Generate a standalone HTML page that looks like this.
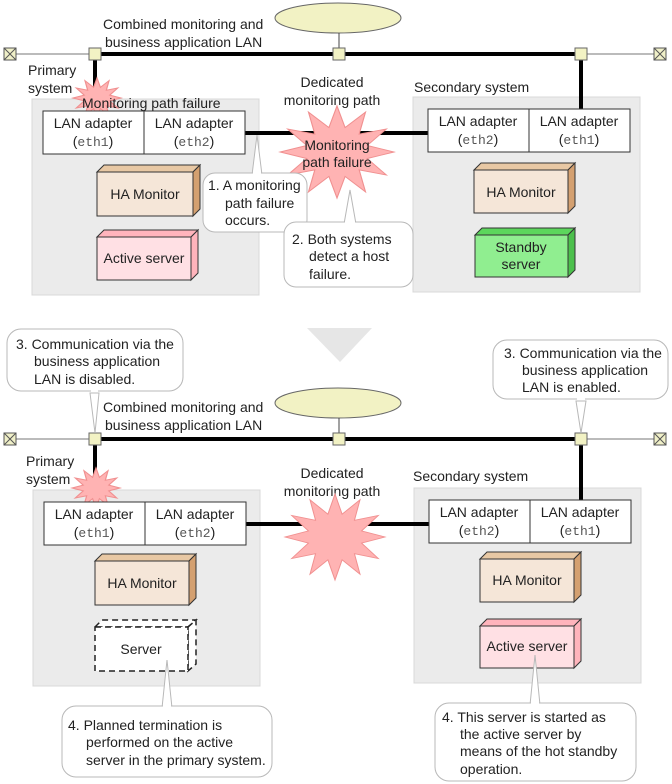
<!DOCTYPE html>
<html><head><meta charset="utf-8"><style>
html,body{margin:0;padding:0;background:#fff}
svg{display:block}
text{font-family:"Liberation Sans",sans-serif;font-size:14px;fill:#222}
.m{font-family:"Liberation Mono",monospace;fill:#555;font-size:13px}
</style></head><body>
<svg width="672" height="784" viewBox="0 0 672 784" xmlns="http://www.w3.org/2000/svg">
<defs>
<polygon id="star" points="1,0 0.531,0.142 0.866,0.5 0.389,0.389 0.5,0.866 0.142,0.531 0,1 -0.142,0.531 -0.5,0.866 -0.389,0.389 -0.866,0.5 -0.531,0.142 -1,0 -0.531,-0.142 -0.866,-0.5 -0.389,-0.389 -0.5,-0.866 -0.142,-0.531 0,-1 0.142,-0.531 0.5,-0.866 0.389,-0.389 0.866,-0.5 0.531,-0.142"/>
<g id="term"><rect x="0" y="0" width="12" height="12" fill="#f0f0c8" stroke="#555"/><path d="M0,0L12,12M12,0L0,12" stroke="#555"/></g>
<rect id="node" x="0" y="0" width="12" height="12" fill="#f2f2c4" stroke="#666"/>
</defs>

<!-- ===== TOP ===== -->
<rect x="32" y="99" width="227" height="196" fill="#ebebeb" stroke="#d8d8d8"/>
<rect x="413" y="97" width="227" height="195" fill="#ebebeb" stroke="#d8d8d8"/>

<ellipse cx="338" cy="18" rx="63" ry="15" fill="#f2f2c4" stroke="#666"/>
<line x1="339" y1="33" x2="339" y2="48" stroke="#444"/>
<line x1="16" y1="54" x2="89" y2="54" stroke="#777"/>
<line x1="587" y1="54" x2="654" y2="54" stroke="#777"/>
<line x1="101" y1="54" x2="575" y2="54" stroke="#000" stroke-width="4"/>
<line x1="95" y1="60" x2="95" y2="100" stroke="#000" stroke-width="4"/>
<line x1="581" y1="60" x2="581" y2="110" stroke="#000" stroke-width="4"/>
<use href="#term" x="4" y="48"/><use href="#term" x="654" y="48"/>
<use href="#node" x="89" y="48"/><use href="#node" x="333" y="48"/><use href="#node" x="575" y="48"/>
<text x="103" y="29">Combined monitoring and</text>
<text x="105" y="47">business application LAN</text>
<text x="28" y="75">Primary</text><text x="28" y="93">system</text>
<text x="414" y="92">Secondary system</text>
<text x="332" y="87" text-anchor="middle">Dedicated</text>
<text x="332" y="105" text-anchor="middle">monitoring path</text>

<line x1="245" y1="133" x2="428" y2="133" stroke="#000" stroke-width="4"/>
<use href="#star" transform="translate(97,98) scale(24,20)" fill="#ffb3b3" stroke="#f09090" stroke-width="0.05"/>
<use href="#star" transform="translate(337,152) scale(57,46)" fill="#ffb3b3" stroke="#f09090" stroke-width="0.02"/>
<text x="82" y="108">Monitoring path failure</text>
<text x="337" y="150" text-anchor="middle">Monitoring</text>
<text x="337" y="167" text-anchor="middle">path failure</text>

<rect x="43" y="111" width="101" height="43" fill="#fff" stroke="#333"/>
<rect x="144" y="111" width="101" height="43" fill="#fff" stroke="#333"/>
<text x="93" y="128" text-anchor="middle">LAN adapter</text><text x="93" y="146" text-anchor="middle">(<tspan class="m">eth1</tspan>)</text>
<text x="194" y="128" text-anchor="middle">LAN adapter</text><text x="194" y="146" text-anchor="middle">(<tspan class="m">eth2</tspan>)</text>
<rect x="428" y="109" width="101" height="43" fill="#fff" stroke="#333"/>
<rect x="529" y="109" width="101" height="43" fill="#fff" stroke="#333"/>
<text x="478" y="126" text-anchor="middle">LAN adapter</text><text x="478" y="144" text-anchor="middle">(<tspan class="m">eth2</tspan>)</text>
<text x="579" y="126" text-anchor="middle">LAN adapter</text><text x="579" y="144" text-anchor="middle">(<tspan class="m">eth1</tspan>)</text>

<g stroke="#333">
<polygon points="97,172 104,165 200,165 193,172" fill="#e8c8a4"/>
<polygon points="193,172 200,165 200,209 193,216" fill="#d4a070"/>
<rect x="97" y="172" width="96" height="44" fill="#f5e6d8"/>
<polygon points="97,237 104,230 198,230 191,237" fill="#ffb4bc"/>
<polygon points="191,237 198,230 198,273 191,280" fill="#ffb4bc"/>
<rect x="97" y="237" width="94" height="43" fill="#ffe0e4"/>
<polygon points="474,170 481,163 575,163 568,170" fill="#e8c8a4"/>
<polygon points="568,170 575,163 575,206 568,213" fill="#d4a070"/>
<rect x="474" y="170" width="94" height="43" fill="#f5e6d8"/>
<polygon points="475,235 482,228 575,228 568,235" fill="#5cd65c"/>
<polygon points="568,235 575,228 575,270 568,277" fill="#4cc04c"/>
<rect x="475" y="235" width="93" height="42" fill="#90ee90"/>
</g>
<text x="145" y="199" text-anchor="middle">HA Monitor</text>
<text x="144" y="263" text-anchor="middle">Active server</text>
<text x="521" y="197" text-anchor="middle">HA Monitor</text>
<text x="521" y="252" text-anchor="middle">Standby</text><text x="521" y="269" text-anchor="middle">server</text>

<g fill="#fff" stroke="#b8b8b8">
<polygon points="252,175 257,135 262,175"/>
<rect x="203" y="173" width="104" height="59" rx="12"/>
<polygon points="344,224 350,190 356,224"/>
<rect x="284" y="222" width="129" height="65" rx="12"/>
</g>
<line x1="253" y1="173" x2="261" y2="173" stroke="#fff" stroke-width="2"/>
<line x1="345" y1="222" x2="355" y2="222" stroke="#fff" stroke-width="2"/>
<text x="208" y="190">1. A monitoring</text><text x="225" y="208">path failure</text><text x="225" y="225">occurs.</text>
<text x="292" y="244">2. Both systems</text><text x="309" y="261">detect a host</text><text x="309" y="279">failure.</text>

<polygon points="307,328 372,328 340,362" fill="#e6e6e6"/>

<!-- ===== BOTTOM ===== -->
<rect x="33" y="490" width="227" height="196" fill="#ebebeb" stroke="#d8d8d8"/>
<rect x="414" y="488" width="227" height="195" fill="#ebebeb" stroke="#d8d8d8"/>

<ellipse cx="338" cy="403" rx="63" ry="15" fill="#f2f2c4" stroke="#666"/>
<line x1="339" y1="418" x2="339" y2="433" stroke="#444"/>
<line x1="16" y1="439" x2="89" y2="439" stroke="#777"/>
<line x1="587" y1="439" x2="654" y2="439" stroke="#777"/>
<line x1="101" y1="439" x2="575" y2="439" stroke="#000" stroke-width="4"/>
<line x1="95" y1="445" x2="95" y2="490" stroke="#000" stroke-width="4"/>
<line x1="581" y1="445" x2="581" y2="500" stroke="#000" stroke-width="4"/>
<use href="#term" x="4" y="433"/><use href="#term" x="654" y="433"/>
<use href="#node" x="89" y="433"/><use href="#node" x="333" y="433"/><use href="#node" x="575" y="433"/>
<text x="103" y="412">Combined monitoring and</text>
<text x="105" y="430">business application LAN</text>
<text x="26" y="466">Primary</text><text x="26" y="484">system</text>
<text x="413" y="481">Secondary system</text>
<text x="332" y="478" text-anchor="middle">Dedicated</text>
<text x="332" y="496" text-anchor="middle">monitoring path</text>

<line x1="246" y1="524" x2="429" y2="524" stroke="#000" stroke-width="4"/>
<use href="#star" transform="translate(96,488) scale(24,20)" fill="#ffb3b3" stroke="#f09090" stroke-width="0.05"/>
<use href="#star" transform="translate(335,537) scale(50,43)" fill="#ffb3b3" stroke="#f09090" stroke-width="0.02"/>

<rect x="44" y="502" width="101" height="43" fill="#fff" stroke="#333"/>
<rect x="145" y="502" width="101" height="43" fill="#fff" stroke="#333"/>
<text x="94" y="519" text-anchor="middle">LAN adapter</text><text x="94" y="537" text-anchor="middle">(<tspan class="m">eth1</tspan>)</text>
<text x="195" y="519" text-anchor="middle">LAN adapter</text><text x="195" y="537" text-anchor="middle">(<tspan class="m">eth2</tspan>)</text>
<rect x="429" y="500" width="101" height="43" fill="#fff" stroke="#333"/>
<rect x="530" y="500" width="101" height="43" fill="#fff" stroke="#333"/>
<text x="479" y="517" text-anchor="middle">LAN adapter</text><text x="479" y="535" text-anchor="middle">(<tspan class="m">eth2</tspan>)</text>
<text x="580" y="517" text-anchor="middle">LAN adapter</text><text x="580" y="535" text-anchor="middle">(<tspan class="m">eth1</tspan>)</text>

<g stroke="#333">
<polygon points="95,561 102,554 196,554 189,561" fill="#e8c8a4"/>
<polygon points="189,561 196,554 196,598 189,605" fill="#d4a070"/>
<rect x="95" y="561" width="94" height="44" fill="#f5e6d8"/>
<polygon points="480,559 487,552 581,552 574,559" fill="#e8c8a4"/>
<polygon points="574,559 581,552 581,595 574,602" fill="#d4a070"/>
<rect x="480" y="559" width="94" height="43" fill="#f5e6d8"/>
<polygon points="480,626 487,619 581,619 574,626" fill="#ffb4bc"/>
<polygon points="574,626 581,619 581,661 574,668" fill="#ffb4bc"/>
<rect x="480" y="626" width="94" height="42" fill="#ffe0e4"/>
</g>
<g stroke="#222" stroke-width="1.5" stroke-dasharray="6,4" fill="#fff">
<polygon points="95,627 102,620 196,620 188,627"/>
<polygon points="188,627 196,620 196,664 188,671"/>
<rect x="95" y="627" width="93" height="44"/>
</g>
<text x="142" y="588" text-anchor="middle">HA Monitor</text>
<text x="141" y="654" text-anchor="middle">Server</text>
<text x="527" y="585" text-anchor="middle">HA Monitor</text>
<text x="527" y="651" text-anchor="middle">Active server</text>

<g fill="#fff" stroke="#b8b8b8">
<polygon points="90,393 95,433 99,393"/>
<rect x="7" y="329" width="176" height="62" rx="14"/>
<polygon points="576,401 581,433 586,401"/>
<rect x="493" y="340" width="175" height="59" rx="14"/>
<polygon points="162,708 167,660 172,708"/>
<rect x="62" y="706" width="210" height="71" rx="14"/>
<polygon points="530,705 535,655 540,705"/>
<rect x="435" y="703" width="201" height="78" rx="14"/>
</g>
<g stroke="#fff" stroke-width="2">
<line x1="91" y1="391" x2="98" y2="391"/><line x1="577" y1="399" x2="585" y2="399"/>
<line x1="163" y1="706" x2="171" y2="706"/><line x1="531" y1="703" x2="539" y2="703"/>
</g>
<text x="16" y="349">3. Communication via the</text><text x="34" y="366">business application</text><text x="34" y="384">LAN is disabled.</text>
<text x="504" y="358">3. Communication via the</text><text x="522" y="375">business application</text><text x="522" y="392">LAN is enabled.</text>
<text x="68" y="730">4. Planned termination is</text><text x="86" y="747">performed on the active</text><text x="86" y="765">server in the primary system.</text>
<text x="442" y="722">4. This server is started as</text><text x="460" y="739">the active server by</text><text x="460" y="756">means of the hot standby</text><text x="460" y="774">operation.</text>
</svg>
</body></html>
